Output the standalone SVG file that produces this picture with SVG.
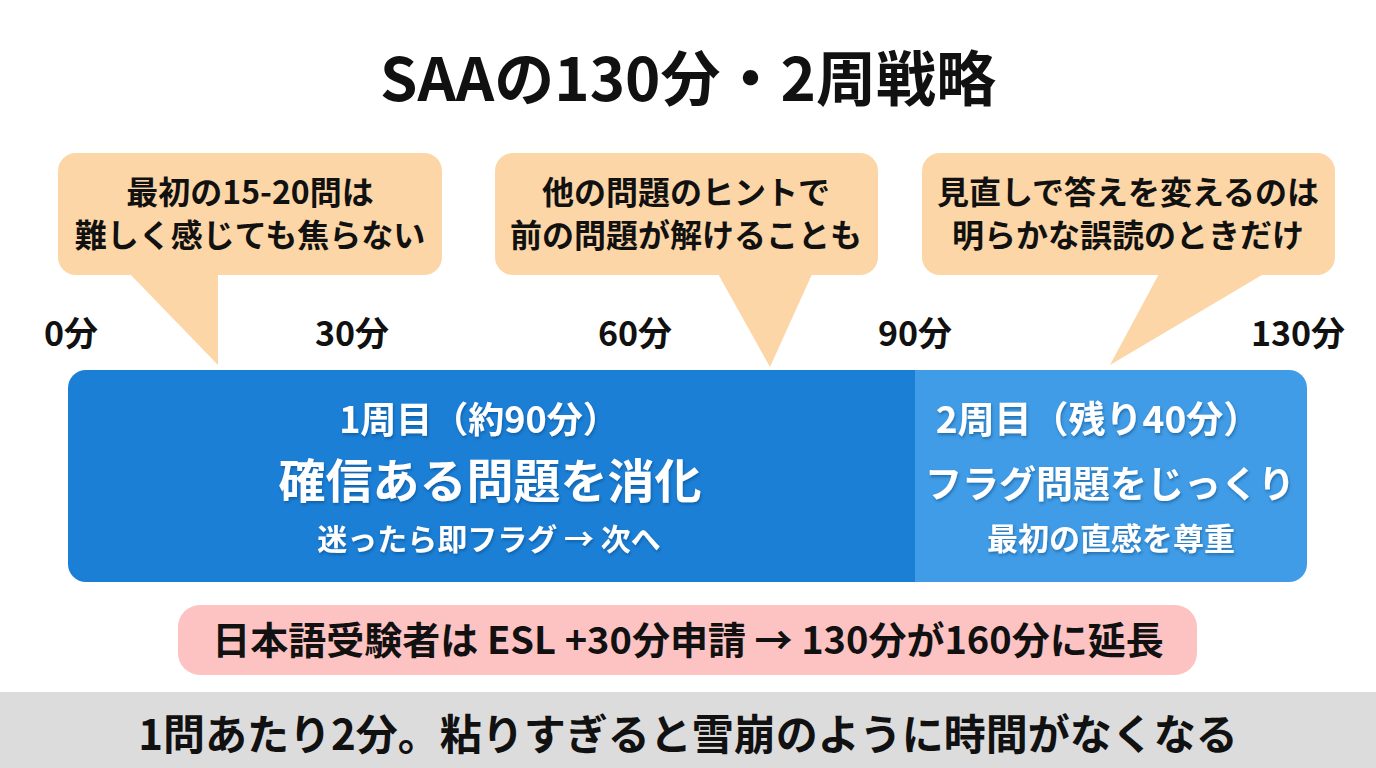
<svg xmlns="http://www.w3.org/2000/svg" width="1376" height="768" viewBox="0 0 1376 768">
<defs>
<style>
text{font-family:"Noto Sans CJK JP","Noto Sans",sans-serif;font-weight:700;text-anchor:middle}
.dark{fill:#111}
.call{fill:#fcd6a6}
.w{fill:#fff;filter:url(#sh)}
</style>
<filter id="sh" x="-10%" y="-30%" width="120%" height="160%">
<feDropShadow dx="1" dy="2" stdDeviation="1.5" flood-color="#0a3a70" flood-opacity="0.45"/>
</filter>
<clipPath id="barclip"><rect x="68" y="370" width="1239" height="212" rx="18"/></clipPath>
</defs>
<rect width="1376" height="768" fill="#fff"/>
<text id="title" class="dark" x="688" y="101" font-size="60">SAAの130分・2周戦略</text>

<g id="callout1">
<rect class="call" x="58" y="153" width="384" height="122" rx="18"/>
<polygon class="call" points="128,272 218,272 218,365"/>
<text class="dark" x="250" y="204" font-size="32">最初の15-20問は</text>
<text class="dark" x="250" y="247" font-size="32">難しく感じても焦らない</text>
</g>
<g id="callout2">
<rect class="call" x="495" y="153" width="383" height="122" rx="18"/>
<polygon class="call" points="717,272 813,272 770,367"/>
<text class="dark" x="686" y="204" font-size="32">他の問題のヒントで</text>
<text class="dark" x="686" y="247" font-size="32">前の問題が解けることも</text>
</g>
<g id="callout3">
<rect class="call" x="922" y="153" width="413" height="122" rx="18"/>
<polygon class="call" points="1160,272 1267,272 1110,365"/>
<text class="dark" x="1128" y="204" font-size="32">見直しで答えを変えるのは</text>
<text class="dark" x="1128" y="247" font-size="32">明らかな誤読のときだけ</text>
</g>

<g id="timeline-labels" font-size="34">
<text class="dark" x="71" y="346">0分</text>
<text class="dark" x="352" y="346">30分</text>
<text class="dark" x="635" y="346">60分</text>
<text class="dark" x="915" y="346">90分</text>
<text class="dark" x="1298" y="346">130分</text>
</g>

<g id="bar">
<g clip-path="url(#barclip)">
<rect x="68" y="370" width="848" height="212" fill="#1b7fd6"/>
<rect x="915" y="370" width="392" height="212" fill="#409ce6"/>
</g>
</g>
<g id="phase1">
<text class="w" x="479" y="433" font-size="36">1周目（約90分）</text>
<text class="w" x="490" y="498" font-size="47">確信ある問題を消化</text>
<text class="w" x="489" y="550" font-size="30">迷ったら即フラグ → 次へ</text>
</g>
<g id="phase2">
<text class="w" x="1098" y="433" font-size="37">2周目（残り40分）</text>
<text class="w" x="1110" y="498" font-size="37">フラグ問題をじっくり</text>
<text class="w" x="1111" y="550" font-size="31">最初の直感を尊重</text>
</g>

<g id="esl-note">
<rect x="178" y="605" width="1019" height="70" rx="22" fill="#fdc3c3"/>
<text class="dark" x="688" y="654" font-size="38">日本語受験者は ESL +30分申請 → 130分が160分に延長</text>
</g>

<g id="footer">
<rect x="0" y="692" width="1376" height="76" fill="#dcdcdc"/>
<text class="dark" x="688" y="750" font-size="42">1問あたり2分。粘りすぎると雪崩のように時間がなくなる</text>
</g>
</svg>
